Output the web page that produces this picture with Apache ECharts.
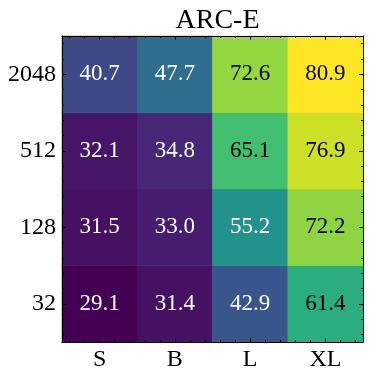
<!DOCTYPE html>
<html>
<head>
<meta charset="utf-8">
<script src="https://cdn.jsdelivr.net/npm/echarts@6/dist/echarts.min.js"></script>
<style>
html,body{margin:0;padding:0;background:#fff;}
#chart{width:373px;height:377px;}
</style>
</head>
<body>
<div id="chart"></div>
<script>
const titleText = 'ARC-E';
const xCats = ['S', 'B', 'L', 'XL'];
const yCats = ['32', '128', '512', '2048'];
const row32 = [29.1, 31.4, 42.9, 61.4];
const row128 = [31.5, 33.0, 55.2, 72.2];
const row512 = [32.1, 34.8, 65.1, 76.9];
const row2048 = [40.7, 47.7, 72.6, 80.9];
const rows = [row32, row128, row512, row2048];

const viridis = ['#440154', '#482475', '#414487', '#355f8d', '#2a788e', '#21918c', '#22a884', '#44bf70', '#7ad151', '#bddf26', '#fde725'];
const FONT = '"Liberation Serif", "DejaVu Serif", serif';

const allVals = rows.flat();
const vmin = Math.min(...allVals), vmax = Math.max(...allVals);

const data = [];
rows.forEach((row, yi) => row.forEach((v, xi) => {
  data.push({ value: [xi, yi, v], label: { color: v >= 58 ? '#000' : '#fff' } });
}));

const minorTicks = [];
for (let i = 0; i < 4; i++) { minorTicks.push(i - 0.4, i - 0.2, i + 0.2, i + 0.4); }

const lineStyle = { color: '#000', width: 1 };
function catAxis(cats, position, labels) {
  return {
    type: 'category', data: cats, position: position, z: 10,
    axisLine: { show: true, onZero: false, lineStyle: lineStyle },
    axisTick: { show: true, inside: true, alignWithLabel: true, length: 4, lineStyle: lineStyle },
    axisLabel: { show: labels, color: '#000', fontFamily: FONT, fontSize: 24, margin: 6 },
    splitLine: { show: false }
  };
}
function minorAxis(position) {
  return {
    type: 'value', min: -0.5, max: 3.5, position: position, z: 10,
    axisLine: { show: false, onZero: false },
    axisTick: { show: true, inside: true, length: 2, customValues: minorTicks, lineStyle: lineStyle },
    axisLabel: { show: false },
    splitLine: { show: false }
  };
}

const chart = echarts.init(document.getElementById('chart'), null, { renderer: 'canvas' });
chart.setOption({
  animation: false,
  backgroundColor: '#fff',
  title: {
    text: titleText, left: 212.5, textAlign: 'center', top: 2,
    textStyle: { fontFamily: FONT, fontSize: 28, fontWeight: 'normal', color: '#000' }
  },
  grid: { left: 62, top: 36, width: 301, height: 306 },
  xAxis: [catAxis(xCats, 'bottom', true), catAxis(xCats, 'top', false), minorAxis('bottom'), minorAxis('top')],
  yAxis: [catAxis(yCats, 'left', true), catAxis(yCats, 'right', false), minorAxis('left'), minorAxis('right')],
  visualMap: { show: false, type: 'continuous', min: vmin, max: vmax, dimension: 2, seriesIndex: 0, inRange: { color: viridis } },
  series: [{
    type: 'heatmap', xAxisIndex: 0, yAxisIndex: 0, data: data,
    label: {
      show: true, fontFamily: FONT, fontSize: 23,
      formatter: p => p.value[2].toFixed(1)
    },
    itemStyle: { borderWidth: 0 },
    emphasis: { disabled: true }
  }]
});
</script>
</body>
</html>
